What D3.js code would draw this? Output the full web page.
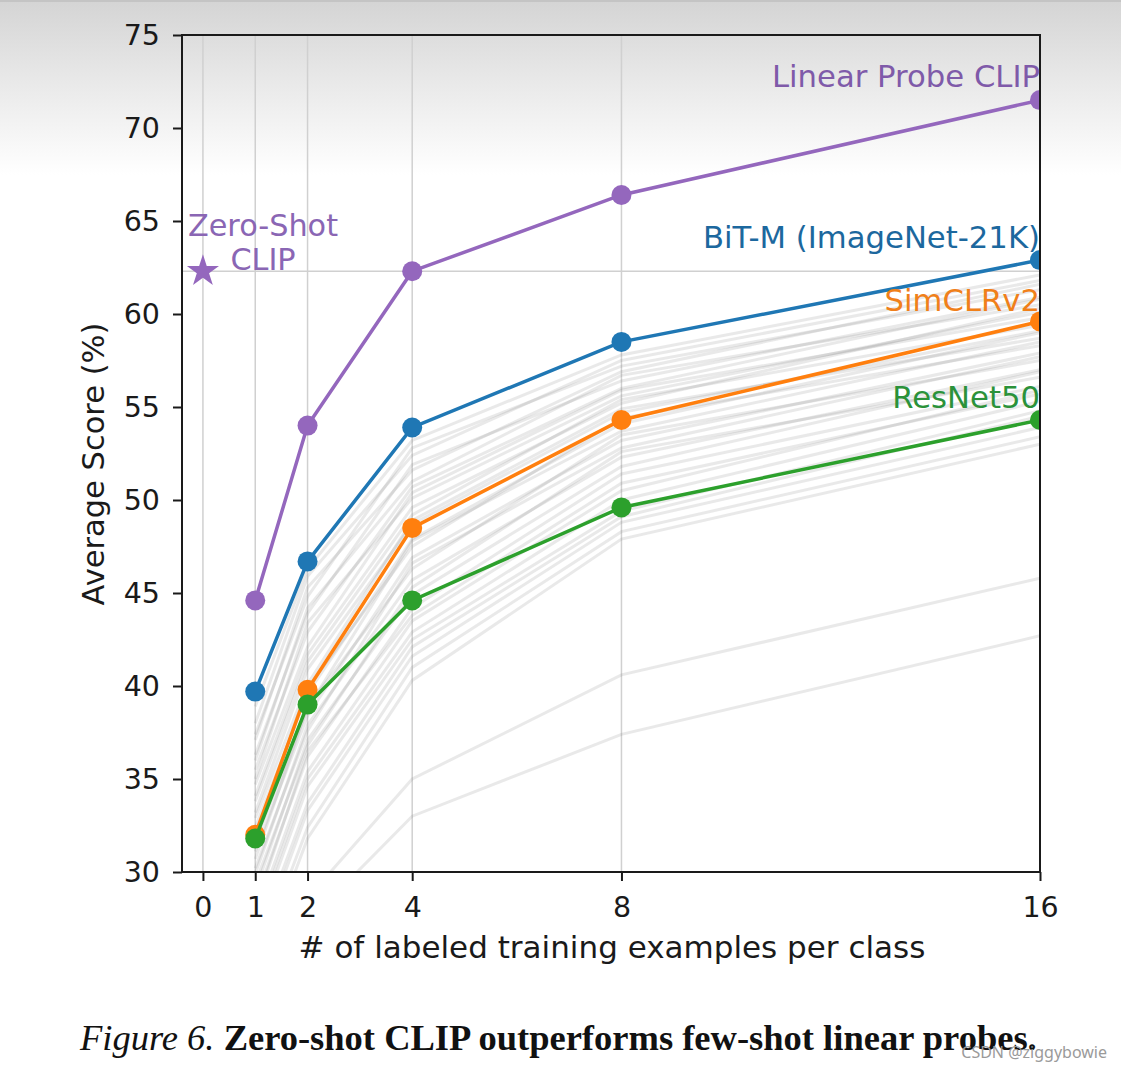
<!DOCTYPE html>
<html>
<head>
<meta charset="utf-8">
<script src="https://cdn.jsdelivr.net/npm/d3@7"></script>
<style>
  html, body { margin: 0; padding: 0; background: #ffffff; }
  svg { display: block; }
  text { font-family: "DejaVu Sans", sans-serif; }
</style>
</head>
<body>
<svg id="chart" width="1121" height="1068"></svg>
<script>
// ---------------- data ----------------
const xTickValues = [0, 1, 2, 4, 8, 16];
const yTickValues = [30, 35, 40, 45, 50, 55, 60, 65, 70, 75];
const shots = [1, 2, 4, 8, 16];

const seriesNames = ["Linear Probe CLIP", "BiT-M (ImageNet-21K)", "SimCLRv2", "ResNet50"];
const linearProbeCLIP = [44.6, 54.0, 62.3, 66.4, 71.5];
const bitM = [39.7, 46.7, 53.9, 58.5, 62.9];
const simclrV2 = [32.0, 39.8, 48.5, 54.3, 59.6];
const resnet50 = [31.8, 39.0, 44.6, 49.6, 54.3];

const zeroShotShots = 0;
const zeroShotCLIP = 62.3;

// other linear-probe models (faint gray lines), values at 1, 2, 4, 8, 16 shots
const otherModels = [
  [38.9, 46.3, 53.2, 57.8, 62.1],
  [38.0, 45.9, 52.4, 57.5, 61.8],
  [37.4, 44.8, 52.8, 57.2, 61.3],
  [37.1, 45.3, 51.6, 56.9, 61.6],
  [36.3, 43.9, 51.9, 56.4, 60.9],
  [36.0, 44.2, 51.0, 56.7, 60.5],
  [35.5, 42.9, 50.7, 56.0, 60.8],
  [35.0, 43.4, 50.1, 55.6, 60.1],
  [34.7, 42.1, 50.4, 55.9, 59.8],
  [34.1, 41.7, 49.6, 55.2, 60.3],
  [33.8, 41.3, 49.2, 55.4, 59.4],
  [33.2, 40.9, 48.7, 54.7, 59.1],
  [32.9, 40.1, 48.9, 54.9, 58.7],
  [32.4, 39.6, 47.9, 54.1, 59.0],
  [31.9, 39.9, 47.5, 54.4, 58.3],
  [31.6, 38.8, 47.8, 53.7, 58.5],
  [31.1, 38.4, 46.9, 53.2, 57.9],
  [30.7, 38.9, 46.3, 53.5, 57.5],
  [30.2, 37.6, 46.6, 52.8, 57.7],
  [29.9, 37.9, 45.7, 52.3, 57.0],
  [29.4, 36.8, 45.3, 52.6, 56.6],
  [29.0, 37.1, 44.9, 51.8, 56.9],
  [28.5, 36.2, 44.2, 51.4, 56.1],
  [28.1, 36.5, 43.8, 50.9, 55.7],
  [27.6, 35.4, 43.5, 50.5, 55.9],
  [27.2, 35.0, 42.9, 50.0, 55.3],
  [26.8, 34.6, 42.5, 49.4, 54.8],
  [26.1, 33.7, 42.1, 49.1, 54.5],
  [25.6, 33.3, 41.6, 48.8, 53.9],
  [24.9, 32.4, 41.0, 48.3, 53.4],
  [24.3, 31.8, 40.3, 47.9, 53.0],
  [21.5, 28.6, 35.0, 40.6, 45.8],
  [19.0, 27.3, 33.0, 37.4, 42.7]
];

const seriesColors = ["#9467bd", "#1f77b4", "#ff7f0e", "#2ca02c"];
const labelColors = ["#7f5aa9", "#1c689e", "#f0801a", "#2b923a"];

// ---------------- layout ----------------
const svg = d3.select("#chart");
const W = 1121, H = 1068;
const plot = { left: 182, right: 1040, top: 35, bottom: 872 };

// background glare gradient (as in the photographed reference)
const defs = svg.append("defs");
const grad = defs.append("linearGradient").attr("id", "bgGrad")
  .attr("x1", 0).attr("y1", 0).attr("x2", 0).attr("y2", 1);
grad.append("stop").attr("offset", "0%").attr("stop-color", "#d4d4d4");
grad.append("stop").attr("offset", "45%").attr("stop-color", "#e8e8e8");
grad.append("stop").attr("offset", "100%").attr("stop-color", "#ffffff");
svg.append("rect").attr("x", 0).attr("y", 0).attr("width", W).attr("height", H).attr("fill", "#ffffff");
svg.append("rect").attr("x", 0).attr("y", 0).attr("width", W).attr("height", 175).attr("fill", "url(#bgGrad)");
svg.append("rect").attr("x", 0).attr("y", 0).attr("width", W).attr("height", 2).attr("fill", "#c4c4c4");

defs.append("clipPath").attr("id", "plotClip")
  .append("rect")
  .attr("x", plot.left).attr("y", plot.top)
  .attr("width", plot.right - plot.left).attr("height", plot.bottom - plot.top);

const x = d3.scaleLinear().domain([-0.4, 16]).range([plot.left, plot.right]);
const y = d3.scaleLinear().domain([30, 75]).range([plot.bottom, plot.top]);

// grid lines
const grid = svg.append("g").attr("clip-path", "url(#plotClip)");
grid.selectAll("line.vgrid").data(xTickValues).join("line")
  .attr("class", "vgrid")
  .attr("x1", d => x(d)).attr("x2", d => x(d))
  .attr("y1", plot.top).attr("y2", plot.bottom)
  .attr("stroke", "#d0d0d0").attr("stroke-width", 1.5);
grid.append("line")
  .attr("x1", plot.left).attr("x2", plot.right)
  .attr("y1", y(zeroShotCLIP)).attr("y2", y(zeroShotCLIP))
  .attr("stroke", "#d0d0d0").attr("stroke-width", 1.5);

const lineGen = d3.line().x((d, i) => x(shots[i])).y(d => y(d));

// faint other models
const marks = svg.append("g").attr("clip-path", "url(#plotClip)");
marks.selectAll("path.other").data(otherModels).join("path")
  .attr("class", "other")
  .attr("d", lineGen)
  .attr("fill", "none")
  .attr("stroke", "#7a7a7a")
  .attr("stroke-opacity", 0.17)
  .attr("stroke-width", 3);

// main series
const series = [linearProbeCLIP, bitM, simclrV2, resnet50];
series.forEach((vals, k) => {
  const g = marks.append("g");
  g.append("path").attr("d", lineGen(vals))
    .attr("fill", "none").attr("stroke", seriesColors[k]).attr("stroke-width", 3.5);
  g.selectAll("circle").data(vals).join("circle")
    .attr("cx", (d, i) => x(shots[i])).attr("cy", d => y(d))
    .attr("r", 10).attr("fill", seriesColors[k]);
});

// zero-shot star
svg.append("path")
  .attr("d", d3.symbol(d3.symbolStar, 320)())
  .attr("transform", `translate(${x(zeroShotShots)},${y(zeroShotCLIP)})`)
  .attr("fill", "#9467bd");

// spines
svg.append("rect")
  .attr("x", plot.left).attr("y", plot.top)
  .attr("width", plot.right - plot.left).attr("height", plot.bottom - plot.top)
  .attr("fill", "none").attr("stroke", "#1a1a1a").attr("stroke-width", 2);

// axes
const yAxis = svg.append("g").attr("transform", `translate(${plot.left},0)`)
  .call(d3.axisLeft(y).tickValues(yTickValues).tickSize(9).tickPadding(13).tickFormat(d3.format("d")));
const xAxis = svg.append("g").attr("transform", `translate(0,${plot.bottom})`)
  .call(d3.axisBottom(x).tickValues(xTickValues).tickSize(9).tickPadding(16).tickFormat(d3.format("d")));
[yAxis, xAxis].forEach(a => {
  a.select(".domain").remove();
  a.selectAll(".tick line").attr("stroke", "#1a1a1a").attr("stroke-width", 2);
  a.selectAll(".tick text").attr("fill", "#1a1a1a")
    .style("font-family", "DejaVu Sans").style("font-size", "28.5px");
});

// axis titles
svg.append("text")
  .attr("transform", `translate(104,464) rotate(-90)`)
  .attr("text-anchor", "middle")
  .attr("fill", "#1a1a1a").style("font-size", "30.5px")
  .text("Average Score (%)");
svg.append("text")
  .attr("x", 612).attr("y", 958)
  .attr("text-anchor", "middle")
  .attr("fill", "#1a1a1a").style("font-size", "31px")
  .text("# of labeled training examples per class");

// series labels
const labelBaselines = [87, 248, 311, 408];
seriesNames.forEach((name, k) => {
  svg.append("text")
    .attr("x", plot.right).attr("y", labelBaselines[k])
    .attr("text-anchor", "end")
    .attr("fill", labelColors[k]).style("font-size", "30.7px")
    .text(name);
});
const zs = svg.append("text").attr("text-anchor", "middle")
  .attr("fill", "#8a66b4").style("font-size", "30.3px");
zs.append("tspan").attr("x", 263).attr("y", 236).text("Zero-Shot");
zs.append("tspan").attr("x", 263).attr("y", 270).text("CLIP");

// caption
const cap = svg.append("text").attr("x", 80).attr("y", 1050)
  .style("font-family", "'Liberation Serif', 'Times New Roman', serif")
  .style("font-size", "36.5px").attr("fill", "#111");
cap.append("tspan").style("font-style", "italic").text("Figure 6. ");
cap.append("tspan").style("font-weight", "bold").text("Zero-shot CLIP outperforms few-shot linear probes.");

// watermark
svg.append("text").attr("x", 1107).attr("y", 1058).attr("text-anchor", "end")
  .style("font-family", "'Noto Sans', sans-serif").style("font-size", "16px")
  .attr("fill", "#9a9a9a").text("CSDN @ziggybowie");
</script>
</body>
</html>
